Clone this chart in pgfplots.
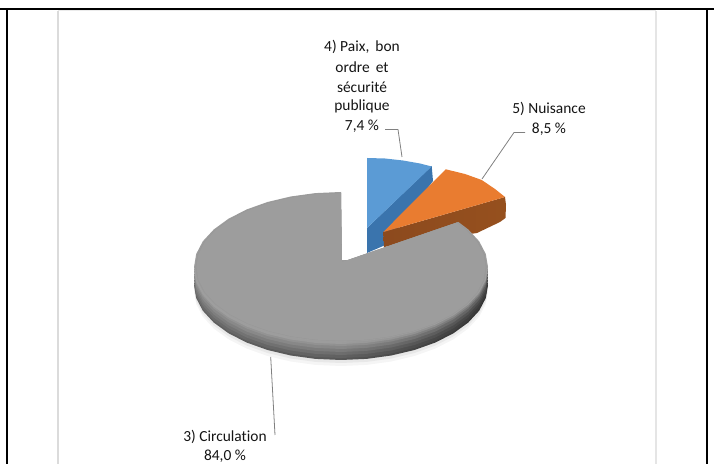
\documentclass[border=0pt]{standalone}
\usepackage{pgfplots}
\pgfplotsset{compat=1.18}
\usepackage{pgfplotstable}
\usepackage{fontspec}
\setmainfont[Ligatures=NoCommon]{Carlito}
\definecolor{pgray}{HTML}{9D9D9D}
\definecolor{pblue}{HTML}{5B9BD5}
\definecolor{pblued}{HTML}{3A74AD}
\definecolor{porange}{HTML}{E97C30}
\definecolor{porangedl}{HTML}{8C4A1E}
\definecolor{porangedr}{HTML}{96501E}
\pgfplotstableread{
x y
341 192
315.4 193.1
290.7 196.5
267.5 202
246.5 209.5
228.4 218.8
213.7 229.5
202.8 241.3
196.2 254
194 267
196.2 280
202.8 292.7
213.7 304.5
228.4 315.2
246.5 324.5
267.5 332
290.7 337.5
315.4 340.9
341 342
366.6 340.9
391.3 337.5
414.5 332
435.5 324.5
453.6 315.2
468.3 304.5
479.2 292.7
485.8 280
488 267
485.8 254
479.2 241.3
468.3 229.5
458.4 222
342 262
}\graytop
\pgfplotstableread{
x y
194 267
196.2 280
202.8 292.7
213.7 304.5
228.4 315.2
246.5 324.5
267.5 332
290.7 337.5
315.4 340.9
341 342
366.6 340.9
391.3 337.5
414.5 332
435.5 324.5
453.6 315.2
468.3 304.5
479.2 292.7
485.8 280
488 267
}\graybottom
\newcommand\wall[4]{\addplot[left color=black!#2,right color=black!#4,middle color=black!#3,draw=none] table[x expr=\thisrow{x},y expr=\thisrow{y}+#1] {\graybottom} -- (axis cs:341,260) -- cycle;}
\newcommand\face[2]{\addplot[fill=#2,draw=none] table[x expr=341+(\thisrow{x}-341)*#1,y expr=264+(\thisrow{y}-264)*#1] {\graytop} -- cycle;}
\begin{document}
\begin{tikzpicture}[x=1bp,y=1bp]
\begin{axis}[
  at={(0,0)},anchor=south west,
  width=714bp,height=464bp,scale only axis,
  xmin=0,xmax=714,ymin=0,ymax=464,y dir=reverse,
  hide axis,clip=true,
]
% frame
\addplot[black,line width=2pt] coordinates {(0,9.5)(714,9.5)};
\addplot[black,line width=2pt] coordinates {(7,9.5)(7,464)};
\addplot[black,line width=2pt] coordinates {(706.7,9.5)(706.7,464)};
\addplot[black!14,line width=1.6pt] coordinates {(58,11)(58,464)};
\addplot[black!10,line width=1.6pt] coordinates {(655.7,11)(655.7,464)};
\addplot[black!8,line width=1pt] coordinates {(58,11)(655.7,11)};
% soft shadow
\addplot[fill=black!4,draw=none] table[x expr=\thisrow{x},y expr=\thisrow{y}+24] {\graybottom} -- cycle;
\addplot[fill=black!9,draw=none] table[x expr=\thisrow{x},y expr=\thisrow{y}+21] {\graybottom} -- cycle;
% leaders
\addplot[black!50,line width=0.8pt] coordinates {(385,129.5)(398,129.5)(402,157)};
\addplot[black!50,line width=0.8pt] coordinates {(525,132.5)(514,132.5)(482,179)};
\addplot[black!50,line width=0.8pt] coordinates {(270.7,357)(275,435)};
% blue slice
\addplot[fill=pblued,draw=none] coordinates {(367,228)(431.7,166)(433,181)(400,225)(390,243)(367,253)} -- cycle;
\addplot[fill=pblue,draw=none] coordinates {(367,158)(385,158.5)(403,160.5)(420,163.5)(431.7,166.5)(367,228)} -- cycle;
% orange slice
\addplot[left color=porangedl,right color=porangedr,draw=none] coordinates {(383.3,232)(505,197)(506,205)(505.5,218)(500,222)(477,233)(384,247)} -- cycle;
\addplot[fill=porange,draw=none] coordinates {(383.3,232)(445.7,169.3)(465,174)(481.7,180)(495,189)(505,197)} -- cycle;
% gray side wall
\wall{18}{62}{66}{80}
\wall{16}{58}{62}{78}
\wall{13}{54}{57}{75}
\wall{10}{50}{52}{70}
\wall{7}{46}{47}{63}
\wall{4}{42}{43}{55}
\wall{2}{38}{39}{47}
% gray top face
\face{1}{black!38}
\face{0.992}{black!40}
\face{0.984}{pgray}
% labels
\def\lab#1#2#3{\node[text=black!92,inner sep=0pt,anchor=center] at (axis cs:#1,#2) {\fontsize{15.5}{17}\selectfont #3};}
\lab{362}{47}{4) Paix,\, bon}
\lab{362}{67}{ordre\, et}
\lab{362}{87}{sécurité}
\lab{362}{106}{publique}
\lab{362}{126}{7,4 \%}
\lab{549}{109}{5) Nuisance}
\lab{549}{129}{8,5 \%}
\lab{225}{437}{3) Circulation}
\lab{225}{456}{84,0 \%}
\end{axis}
\path[use as bounding box] (0,0) rectangle (714,464);
\end{tikzpicture}
\end{document}
